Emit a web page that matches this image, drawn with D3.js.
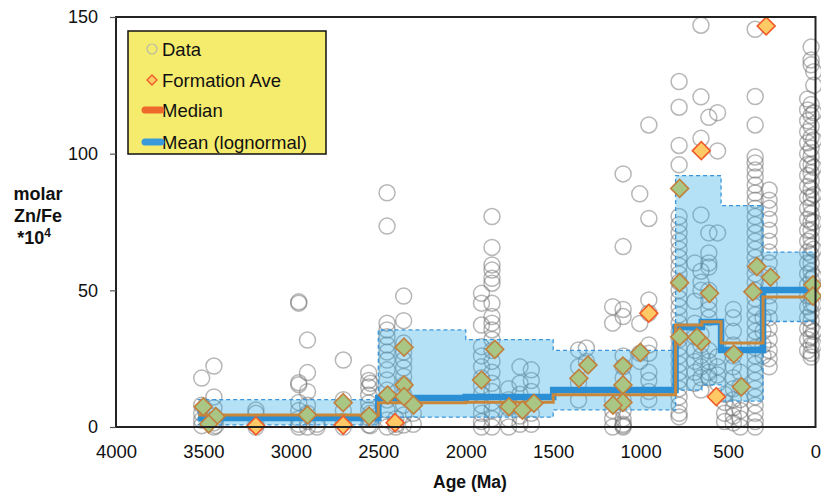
<!DOCTYPE html>
<html>
<head>
<meta charset="utf-8">
<script src="https://cdn.jsdelivr.net/npm/d3@7"></script>
<style>
  body { margin: 0; background: #fff; }
  text { font-family: "Liberation Sans", Arial, sans-serif; }
</style>
</head>
<body>
<svg id="chart" width="821" height="492"></svg>
<script>
// data columns (age in Ma, molar Zn/Fe *10^4 values)
var dataAges = [3510, 3440, 3430, 3200, 2955, 2905, 2850, 2700, 2555, 2545, 2450, 2400, 2355, 2300,
                1910, 1850, 1755, 1690, 1625, 1355, 1310, 1160, 1100, 1005, 953,
                780, 690, 655, 610, 560, 520, 470, 430, 345, 300, 265, 45, 25, 10];
var dataValues = [
  [17.9, 8, 5, 2.5, 0.5],
  [22.3, 11, 7, 4, 1.5, 0],
  [3, 0.5],
  [6.2, 5, 1, 0],
  [45.8, 45.3, 16.2, 15.5, 9, 6, 3, 1, 0],
  [31.8, 19.9, 12.9, 8, 5, 2, 0],
  [1, 0],
  [24.5, 10, 6, 2, 0],
  [19.8, 17, 14.6, 11.7, 8.8, 6.2, 3.3, 0.7],
  [16, 5, 0.5],
  [85.7, 73.5, 38, 35.5, 33, 30, 27.4, 24.5, 20.9, 17.2, 13.5, 9.9, 6.2, 2.6, 0],
  [3, 1, 0],
  [47.9, 38.9, 30.7, 27.4, 24.5, 21.6, 18.5, 15.4, 11.7, 8, 4.4, 0.7],
  [5, 1],
  [48.9, 45.3, 37.3, 29.4, 26, 22, 18, 15, 12, 8, 5, 2, 0],
  [77, 65.7, 59.3, 57.4, 54.4, 52.6, 45.3, 40.4, 38, 35.5, 32, 28, 24, 20, 16, 13, 9, 6, 3, 0],
  [14, 10, 7, 3, 0],
  [22, 16, 12, 8, 4, 1],
  [20.9, 17, 13, 9, 5, 1],
  [28.2, 22, 16, 9.9],
  [28.9, 24],
  [44, 38, 10, 6, 3, 0],
  [92.6, 66, 43, 40.4, 26, 22, 18, 14, 10, 6, 3, 1, 0.5, 0],
  [85.3, 37.9, 27, 24],
  [110.5, 76.3, 46.5, 41.7, 30, 27, 20, 17, 13, 10],
  [126.4, 117, 103, 95.9, 77, 74, 71, 68, 65, 62, 59, 56, 53, 50, 47, 44, 41, 38, 35, 32, 29, 26, 23, 20, 17, 14, 11, 8, 5, 3.7],
  [60, 46, 38, 33, 28, 24, 20, 16],
  [147, 120.8, 105.6, 77.6, 57, 53, 50, 34, 30, 26, 22, 18, 13.5],
  [113.3, 71, 63.7, 60, 58.5, 50, 46, 43, 40, 28, 24, 20, 18],
  [115, 101, 71, 25.6, 22, 19, 16],
  [12, 9, 5, 2],
  [43, 40, 35, 30, 26, 22, 18, 14, 10, 7, 4, 1.5],
  [20, 15, 10, 6, 3, 0],
  [145.5, 120.9, 110.5, 98.8, 96.6, 94, 91.5, 88.5, 85.6, 83, 80, 77, 74, 71, 68, 65, 62, 59, 56, 53, 50, 47, 44, 41, 38, 35, 32, 29, 26, 23, 20, 17, 14, 11, 8, 5, 2, 0],
  [40, 35, 30, 26],
  [86.7, 83, 80, 76, 72, 68, 64, 60, 56, 52, 48, 44, 40, 36, 32, 28, 25, 22],
  [120, 116, 112, 108, 104, 100, 96, 92, 88, 84, 80, 76, 72, 68, 64, 60, 56, 52, 48, 44, 40, 36, 32, 28],
  [139, 134.3, 132.5, 118, 114, 110, 106, 102, 99, 96, 93, 90, 87, 84, 81, 78, 75, 72, 69, 66, 63, 60, 57, 54, 51, 48, 45, 42, 39, 36, 33, 30, 27, 25.6],
  [130, 125, 115, 105, 95, 85, 75, 65, 55, 45, 35, 30]
];

// formation averages
var formationAges = [3501, 3429, 3470, 3200, 2905, 2701, 2701, 2553, 2447, 2353, 2353, 2353, 2299, 2404,
                     1834, 1910, 1753, 1676, 1610, 1301, 1353, 1101, 1101, 1101, 1158, 1002, 953,
                     282, 653, 777, 777, 777, 653, 678, 606, 467, 567, 424, 335, 257, 358, 15, 15];
var formationValues = [7.4, 3.8, 1.1, 0.4, 4.4, 8.9, 0.7, 4.0, 11.7, 29.2, 15.4, 11.1, 8.0, 1.6,
                       28.4, 17.2, 7.4, 6.2, 8.7, 22.7, 17.8, 22.3, 15.4, 9.0, 8.0, 27.3, 41.6,
                       146.7, 101.1, 87.3, 52.8, 33.0, 31.2, 32.8, 48.9, 26.7, 11.1, 14.7, 58.7, 54.8, 49.5, 52.0, 47.9];

// binned statistics
var binEdges = [3530, 2500, 2000, 1500, 800, 650, 540, 300, 0];
var bandTop = [10, 35.5, 32, 28, 92, 92, 81, 64];
var bandBottom = [0.8, 3.6, 3.6, 6.3, 13.5, 15.4, 9.5, 38.6];
var meanValues = [3.3, 10.6, 11, 13.5, 36.6, 38.4, 28.2, 50.1];
var medianValues = [4.4, 8.9, 9.1, 11.8, 37.3, 38.5, 30.7, 47.6];

var xTicks = [4000, 3500, 3000, 2500, 2000, 1500, 1000, 500, 0];
var yTicks = [0, 50, 100, 150];
var legendLabels = ['Data', 'Formation Ave', 'Median', 'Mean (lognormal)'];

var margin = { top: 17, left: 116, right: 5.5, bottom: 65 };
var width = 821 - margin.left - margin.right;
var height = 492 - margin.top - margin.bottom;

var svg = d3.select('#chart');
var g = svg.append('g').attr('transform', `translate(${margin.left},${margin.top})`);

var x = d3.scaleLinear().domain([4000, 0]).range([0, width]);
var y = d3.scaleLinear().domain([0, 150]).range([height, 0]);

// data circles
var points = [];
dataAges.forEach(function(age, i) {
  dataValues[i].forEach(function(v) { points.push([age, v]); });
});

g.append('g').selectAll('circle').data(points).enter().append('circle')
  .attr('cx', d => x(d[0]))
  .attr('cy', d => y(d[1]))
  .attr('r', 8)
  .attr('fill', 'none')
  .attr('stroke', '#707070')
  .attr('stroke-opacity', 0.5)
  .attr('stroke-width', 1.5);

// step series
function stepPoints(vals) {
  var pts = vals.map((v, i) => [binEdges[i], v]);
  pts.push([binEdges[binEdges.length - 1], vals[vals.length - 1]]);
  return pts;
}

var bandPts = binEdges.map(function(e, i) {
  var k = Math.min(i, bandTop.length - 1);
  return [e, bandBottom[k], bandTop[k]];
});

g.append('path')
  .datum(bandPts)
  .attr('d', d3.area().curve(d3.curveStepAfter)
    .x(d => x(d[0])).y0(d => y(d[1])).y1(d => y(d[2])))
  .attr('fill', '#28a9e2')
  .attr('fill-opacity', 0.35)
  .attr('stroke', '#3b95da')
  .attr('stroke-width', 1.3)
  .attr('stroke-dasharray', '4,3');

var stepLine = d3.line().curve(d3.curveStepAfter).x(d => x(d[0])).y(d => y(d[1]));

g.append('path')
  .datum(stepPoints(meanValues))
  .attr('d', stepLine)
  .attr('fill', 'none')
  .attr('stroke', '#2b8fd6')
  .attr('stroke-width', 6.5);

g.append('path')
  .datum(stepPoints(medianValues))
  .attr('d', stepLine)
  .attr('fill', 'none')
  .attr('stroke', '#c8873a')
  .attr('stroke-width', 3);

// formation averages: the ones sitting inside the shaded band look green
function inBand(age, v) {
  for (var i = 0; i < bandTop.length; i++) {
    if (age <= binEdges[i] && age > binEdges[i + 1]) return v >= bandBottom[i] && v <= bandTop[i];
  }
  return false;
}

var diamond = d3.symbol().type(d3.symbolSquare).size(160);
g.append('g').selectAll('path').data(formationAges).enter().append('path')
  .attr('d', diamond)
  .attr('transform', (d, i) => `translate(${x(d)},${y(formationValues[i])}) rotate(45)`)
  .attr('fill', (d, i) => inBand(d, formationValues[i]) ? '#a9c685' : '#ffc966')
  .attr('stroke', (d, i) => inBand(d, formationValues[i]) ? '#c27f3c' : '#f05a28')
  .attr('stroke-width', 1.6);

// frame
g.append('rect')
  .attr('width', width).attr('height', height)
  .attr('fill', 'none')
  .attr('stroke', '#222')
  .attr('stroke-width', 2);

// axes
var yAxis = g.append('g').call(d3.axisLeft(y).tickValues(yTicks).tickSize(6).tickPadding(12));
yAxis.select('.domain').remove();
yAxis.selectAll('line').attr('stroke', '#555').attr('stroke-width', 1.2);
yAxis.selectAll('text').attr('font-size', 18).attr('fill', '#111').attr('font-family', '"Liberation Sans", Arial, sans-serif');

var xAxis = g.append('g').attr('transform', `translate(0,${height})`)
  .call(d3.axisBottom(x).tickValues(xTicks).tickSize(0).tickPadding(18).tickFormat(d3.format('d')));
xAxis.select('.domain').remove();
xAxis.selectAll('text').attr('font-size', 18.5).attr('fill', '#111').attr('font-family', '"Liberation Sans", Arial, sans-serif');

// titles
svg.append('text')
  .attr('x', 470).attr('y', 488)
  .attr('text-anchor', 'middle')
  .attr('font-size', 17.5).attr('font-weight', 'bold').attr('fill', '#111')
  .text('Age (Ma)');

var yTitle = svg.append('text')
  .attr('text-anchor', 'middle')
  .attr('font-size', 18).attr('font-weight', 'bold').attr('fill', '#111');
yTitle.append('tspan').attr('x', 38).attr('y', 199.5).text('molar');
yTitle.append('tspan').attr('x', 38).attr('y', 221.5).text('Zn/Fe');
yTitle.append('tspan').attr('x', 34).attr('y', 243.5).text('*10');
yTitle.append('tspan').attr('dy', -7).attr('font-size', 12).text('4');

// legend
var legend = svg.append('g');
legend.append('rect')
  .attr('x', 128).attr('y', 31).attr('width', 198).attr('height', 123)
  .attr('fill', '#f5ec6e')
  .attr('stroke', '#111')
  .attr('stroke-width', 1.5);

var legendY = [49, 80, 110, 142];
legend.selectAll('text.lab').data(legendLabels).enter().append('text')
  .attr('class', 'lab')
  .attr('x', 162).attr('y', (d, i) => legendY[i] + 6.5)
  .attr('font-size', 18.5).attr('fill', '#111')
  .text(d => d);

legend.append('circle').attr('cx', 152).attr('cy', legendY[0]).attr('r', 5)
  .attr('fill', 'none').attr('stroke', '#b8b8a8').attr('stroke-width', 1.2);
legend.append('path').attr('d', d3.symbol().type(d3.symbolSquare).size(50))
  .attr('transform', `translate(152,${legendY[1]}) rotate(45)`)
  .attr('fill', '#ffc966').attr('stroke', '#f05a28').attr('stroke-width', 1.4);
legend.append('line').attr('x1', 145).attr('x2', 161).attr('y1', legendY[2]).attr('y2', legendY[2])
  .attr('stroke', '#ee6a2c').attr('stroke-width', 7).attr('stroke-linecap', 'round');
legend.append('line').attr('x1', 145).attr('x2', 161).attr('y1', legendY[3]).attr('y2', legendY[3])
  .attr('stroke', '#3a9ad9').attr('stroke-width', 7).attr('stroke-linecap', 'round');
</script>
</body>
</html>
